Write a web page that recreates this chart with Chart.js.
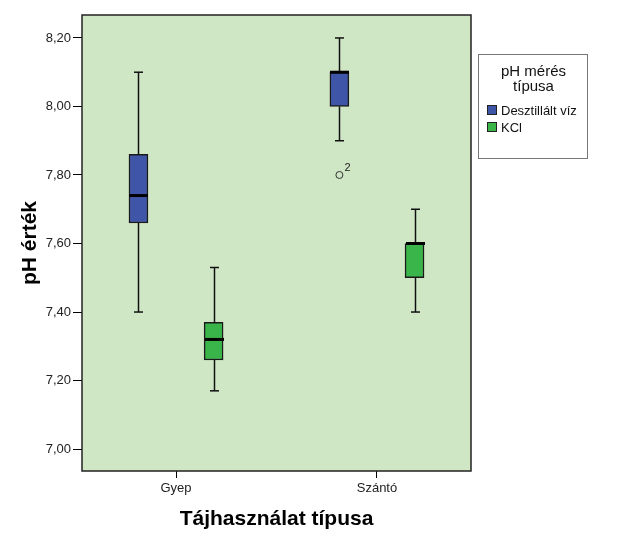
<!DOCTYPE html>
<html>
<head>
<meta charset="utf-8">
<script src="https://cdn.jsdelivr.net/npm/chart.js@4/dist/chart.umd.min.js"></script>
<style>
html,body{margin:0;padding:0;background:#ffffff;}
#wrap{width:629px;height:544px;position:relative;}
</style>
</head>
<body>
<div id="wrap"><canvas id="c" width="629" height="544"></canvas></div>
<script>
// ---- data ----
const categories = ['Gyep', 'Szántó'];
const seriesNames = ['Desztillált víz', 'KCl'];
const legendTitle = ['pH mérés', 'típusa'];
const xTitle = 'Tájhasználat típusa';
const yTitle = 'pH érték';
const yTicks = [7.00, 7.20, 7.40, 7.60, 7.80, 8.00, 8.20];

const desztMin = [7.40, 7.90];
const desztQ1  = [7.66, 8.00];
const desztMed = [7.74, 8.10];
const desztQ3  = [7.86, 8.10];
const desztMax = [8.10, 8.20];

const kclMin = [7.17, 7.40];
const kclQ1  = [7.26, 7.50];
const kclMed = [7.32, 7.60];
const kclQ3  = [7.37, 7.60];
const kclMax = [7.53, 7.70];

// outliers (Desztillált víz series)
const outlierCategory = [1];
const outlierValue = [7.80];
const outlierCase = ['2'];

// ---- styles / layout ----
const colors = ['#3f56a8', '#3ab54a'];
const plotBg = '#d0e7c6';
const seriesOffset = [-0.187, 0.187];
const BOX_W = 19;
const CAP_W = 9;
const FONT = '"Liberation Sans", Arial, sans-serif';

const series = [
  {min: desztMin, q1: desztQ1, med: desztMed, q3: desztQ3, max: desztMax},
  {min: kclMin, q1: kclQ1, med: kclMed, q3: kclQ3, max: kclMax}
];

const datasets = series.map((s, si) => ({
  type: 'bar',
  label: seriesNames[si],
  data: s.q1.map((v, ci) => ({x: ci + seriesOffset[si], y: [v, s.q3[ci]]})),
  backgroundColor: colors[si],
  borderColor: '#1a1a1a',
  borderWidth: 1.5,
  borderSkipped: false,
  barThickness: BOX_W,
  grouped: false
}));

datasets.push({
  type: 'scatter',
  label: 'outliers',
  data: outlierCategory.map((c, i) => ({x: c + seriesOffset[0], y: outlierValue[i]})),
  pointRadius: 3.5,
  pointBorderWidth: 1,
  borderColor: '#333333',
  backgroundColor: 'rgba(0,0,0,0)',
  pointBackgroundColor: 'rgba(0,0,0,0)'
});

function hLine(ctx, x1, x2, y) { ctx.beginPath(); ctx.moveTo(x1, y); ctx.lineTo(x2, y); ctx.stroke(); }
function vLine(ctx, x, y1, y2) { ctx.beginPath(); ctx.moveTo(x, y1); ctx.lineTo(x, y2); ctx.stroke(); }

const boxPlugin = {
  id: 'boxExtras',
  beforeDraw(chart) {
    const {ctx, chartArea: a} = chart;
    ctx.save();
    ctx.fillStyle = plotBg;
    ctx.fillRect(a.left, a.top, a.right - a.left, a.bottom - a.top);
    ctx.restore();
  },
  afterDatasetsDraw(chart) {
    const ctx = chart.ctx, xs = chart.scales.x, ys = chart.scales.y;
    ctx.save();
    ctx.strokeStyle = '#111111';
    series.forEach((s, si) => {
      s.q1.forEach((q1, ci) => {
        const cx = Math.round(xs.getPixelForValue(ci + seriesOffset[si])) + 0.5;
        const yMin = ys.getPixelForValue(s.min[ci]);
        const yMax = ys.getPixelForValue(s.max[ci]);
        const yQ1 = ys.getPixelForValue(q1);
        const yQ3 = ys.getPixelForValue(s.q3[ci]);
        const yMed = ys.getPixelForValue(s.med[ci]);
        ctx.lineWidth = 1.5;
        vLine(ctx, cx, yQ3, yMax);
        vLine(ctx, cx, yQ1, yMin);
        hLine(ctx, cx - CAP_W / 2, cx + CAP_W / 2, yMax);
        hLine(ctx, cx - CAP_W / 2, cx + CAP_W / 2, yMin);
        ctx.lineWidth = 3;
        ctx.strokeStyle = '#000000';
        hLine(ctx, cx - BOX_W / 2, cx + BOX_W / 2, yMed);
        ctx.strokeStyle = '#111111';
      });
    });
    // outlier case labels
    ctx.fillStyle = '#222222';
    ctx.font = '11px ' + FONT;
    ctx.textAlign = 'left';
    ctx.textBaseline = 'bottom';
    outlierCategory.forEach((c, i) => {
      const px = xs.getPixelForValue(c + seriesOffset[0]);
      const py = ys.getPixelForValue(outlierValue[i]);
      ctx.fillText(outlierCase[i], px + 5, py - 2);
    });
    ctx.restore();
  },
  afterDraw(chart) {
    const {ctx, chartArea: a} = chart;
    ctx.save();
    // plot frame
    ctx.strokeStyle = '#222222';
    ctx.lineWidth = 1.5;
    ctx.strokeRect(a.left, a.top, a.right - a.left, a.bottom - a.top);
    // legend
    const lx = a.right + 7, ly = 54, lw = 109, lh = 104;
    ctx.strokeStyle = '#777777';
    ctx.lineWidth = 1;
    ctx.strokeRect(lx + 0.5, ly + 0.5, lw, lh);
    ctx.fillStyle = '#111111';
    ctx.font = '15px ' + FONT;
    ctx.textAlign = 'center';
    ctx.textBaseline = 'middle';
    legendTitle.forEach((t, i) => ctx.fillText(t, lx + lw / 2 + 1, ly + 18 + i * 15));
    ctx.font = '13px ' + FONT;
    ctx.textAlign = 'left';
    seriesNames.forEach((n, i) => {
      const yy = ly + 56 + i * 17;
      ctx.fillStyle = colors[i];
      ctx.fillRect(lx + 9, yy - 5, 10, 10);
      ctx.strokeStyle = '#222222';
      ctx.strokeRect(lx + 9.5, yy - 4.5, 9, 9);
      ctx.fillStyle = '#111111';
      ctx.fillText(n, lx + 23, yy + 1);
    });
    ctx.restore();
  }
};

new Chart(document.getElementById('c'), {
  type: 'bar',
  data: {datasets},
  plugins: [boxPlugin],
  options: {
    responsive: false,
    animation: false,
    layout: {padding: {top: 15, right: 158, left: 0, bottom: 0}},
    plugins: {legend: {display: false}, tooltip: {enabled: false}},
    scales: {
      x: {
        type: 'linear',
        min: -0.468,
        max: 1.468,
        offset: false,
        afterFit: s => { s.height = 73; },
        afterBuildTicks: s => { s.ticks = categories.map((_, i) => ({value: i})); },
        grid: {offset: false, drawOnChartArea: false, drawTicks: true, tickLength: 7, color: '#000000', lineWidth: 1},
        border: {display: false},
        ticks: {
          callback: v => categories[v],
          font: {family: FONT, size: 13},
          color: '#222222',
          padding: 3,
          maxRotation: 0,
          autoSkip: false
        },
        title: {
          display: true,
          text: xTitle,
          font: {family: FONT, size: 21, weight: 'bold'},
          color: '#000000',
          padding: {top: 0, bottom: 12}
        }
      },
      y: {
        type: 'linear',
        min: 6.936,
        max: 8.267,
        afterFit: s => { s.width = 82; },
        afterBuildTicks: s => { s.ticks = yTicks.map(v => ({value: v})); },
        grid: {drawOnChartArea: false, drawTicks: true, tickLength: 9, color: '#000000', lineWidth: 1},
        border: {display: false},
        ticks: {
          callback: v => Number(v).toFixed(2).replace('.', ','),
          font: {family: FONT, size: 13},
          color: '#222222',
          padding: 2
        },
        title: {
          display: true,
          text: yTitle,
          font: {family: FONT, size: 21, weight: 'bold'},
          color: '#000000',
          padding: {top: 18, bottom: 0}
        }
      }
    }
  }
});
</script>
</body>
</html>
